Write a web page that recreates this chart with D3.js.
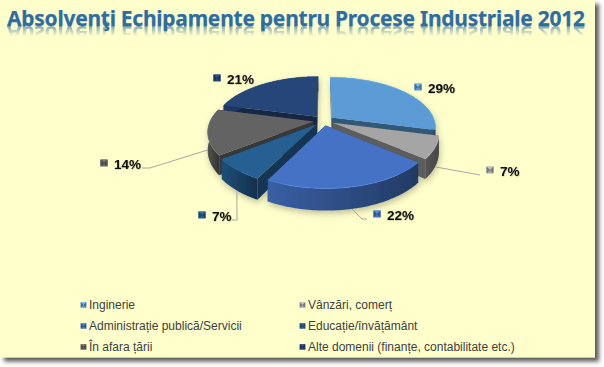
<!DOCTYPE html>
<html>
<head>
<meta charset="utf-8">
<script src="https://d3js.org/d3.v7.min.js"></script>
<style>
  html, body { margin: 0; background: #fff; }
  svg { display: block; }
  .legend text { font: 12px "Liberation Sans", Arial, sans-serif; fill: #404040; }
  .pct { font: bold 13.5px "Liberation Sans", Arial, sans-serif; fill: #111; }
  .title { font: bold 21px "Noto Sans", sans-serif; }
</style>
</head>
<body>
<div id="chart"></div>
<script>
const categories = ["Inginerie", "Vânzări, comerț", "Administrație publică/Servicii", "Educație/învățământ", "În afara țării", "Alte domenii (finanțe, contabilitate etc.)"];
// the printed labels are these rounded
const shares = [29, 7, 21.6, 7, 14.4, 21];
const colors = ["#5b9bd5", "#a5a5a5", "#4472c4", "#255e91", "#636363", "#264478"];
const titleText = "Absolvenţi Echipamente pentru Procese Industriale 2012";

// label placement, same order as categories. leader is the far end of the line
const labelSpots = [
  { x: 428, y: 88 },
  { x: 500, y: 171, leader: [[480, 175]] },
  { x: 387, y: 215, leader: [[362, 219], [367, 219]] },
  { x: 212, y: 216, leader: [[237, 220], [232, 220]] },
  { x: 114, y: 164, leader: [[150, 168], [142, 168]] },
  { x: 227, y: 79 }
];

const width = 604, height = 367;
const svg = d3.select("#chart").append("svg").attr("width", width).attr("height", height);
const defs = svg.append("defs");

// Frame
const frameShadow = defs.append("filter").attr("id", "frame-shadow").attr("x", "-5%").attr("y", "-5%").attr("width", "110%").attr("height", "110%");
frameShadow.append("feDropShadow").attr("dx", 4).attr("dy", 4).attr("stdDeviation", 2.2).attr("flood-color", "#333").attr("flood-opacity", 0.8);
svg.append("rect").attr("width", 595).attr("height", 357.5).attr("fill", "#ffffcc").attr("filter", "url(#frame-shadow)");

// Title. The reflection is a mirrored <use> of the same text node
const fade = defs.append("linearGradient").attr("id", "title-fade").attr("x1", 0).attr("x2", 0).attr("y1", 0).attr("y2", 1);
fade.append("stop").attr("offset", "0.42").attr("stop-color", "#2e6da4").attr("stop-opacity", 0);
fade.append("stop").attr("offset", "0.78").attr("stop-color", "#2e6da4").attr("stop-opacity", 0.6);
const soft = defs.append("filter").attr("id", "soft");
soft.append("feGaussianBlur").attr("stdDeviation", 0.5);
svg.append("g").attr("fill", "#2e6da4").attr("stroke", "#2e6da4").attr("stroke-width", 0.25)
  .append("text").attr("id", "title-text").attr("class", "title").attr("x", 7).attr("y", 25.5)
  .attr("textLength", 578).text(titleText);
svg.append("use").attr("href", "#title-text")
  .attr("transform", "translate(0,51.5) scale(1,-1)")
  .attr("fill", "url(#title-fade)").attr("stroke", "none").attr("filter", "url(#soft)");

// Pie geometry: a flat disc seen in perspective
const cx = 323.5, cy = 120.5, R = 103, flatten = 49, persp = 0.19, drop = 17.5, explode = 0.1;

function project(a, r, off, z) {
  const px = Math.sin(a) * r + Math.sin(off) * explode;
  const py = -Math.cos(a) * r - Math.cos(off) * explode;
  const s = 1 / (1 - persp * py);
  return [cx + px * R * s, cy + py * flatten * s + z * drop * s];
}

const slices = d3.pie().sort(null).value(d => d)(shares).map((d, i) => {
  const mid = (d.startAngle + d.endAngle) / 2;
  return { i, color: colors[i], start: d.startAngle, end: d.endAngle, mid, angles: d3.range(d.startAngle, d.endAngle, 0.02).concat(d.endAngle) };
});

const pathLine = d3.line();
const shadow = defs.append("filter").attr("id", "pie-shadow").attr("x", "-10%").attr("y", "-10%").attr("width", "120%").attr("height", "130%");
shadow.append("feDropShadow").attr("dx", 1).attr("dy", 3).attr("stdDeviation", 3).attr("flood-color", "#000").attr("flood-opacity", 0.25);

slices.forEach(s => {
  const g = defs.append("linearGradient").attr("id", `wall-${s.i}`);
  g.append("stop").attr("offset", 0).attr("stop-color", d3.color(s.color).darker(s.i === 1 ? 1.9 : 0.5));
  g.append("stop").attr("offset", 1).attr("stop-color", d3.color(s.color).darker(s.i === 1 ? 2.3 : 1.9));
});

const gPie = svg.append("g").attr("filter", "url(#pie-shadow)");

// Back slices first
const paintOrder = slices.slice().sort((a, b) => -Math.cos(a.mid) - -Math.cos(b.mid));

paintOrder.forEach(s => {
  const rim = z => s.angles.map(a => project(a, 1, s.mid, z));
  const tip = z => project(s.mid, 0, s.mid, z);
  const radial = a => [tip(0), project(a, 1, s.mid, 0), project(a, 1, s.mid, 1), tip(1)];
  const dark = d3.color(s.color).darker(1.6);

  gPie.append("path").attr("d", pathLine(radial(s.start)) + "Z").attr("fill", dark);
  gPie.append("path").attr("d", pathLine(radial(s.end)) + "Z").attr("fill", dark);
  gPie.append("path").attr("d", pathLine(rim(0).concat(rim(1).reverse())) + "Z").attr("fill", `url(#wall-${s.i})`);
  gPie.append("path").attr("d", pathLine([tip(0)].concat(rim(0))) + "Z").attr("fill", s.color);
  // bevel highlight on the rim
  gPie.append("path").attr("d", pathLine(rim(0))).attr("fill", "none")
    .attr("stroke", d3.color(s.color).brighter(0.7)).attr("stroke-width", 0.8).attr("opacity", 0.7);
});

// Bevelled square used for the label and legend keys
function drawKey(parent, x, y, size, color) {
  const h = size / 2, base = d3.color(color);
  const tri = (a, b) => pathLine([[x, y], a, b]) + "Z";
  parent.append("rect").attr("x", x - h).attr("y", y - h).attr("width", size).attr("height", size).attr("fill", base);
  parent.append("path").attr("d", tri([x - h, y - h], [x + h, y - h])).attr("fill", base.brighter(0.5));
  parent.append("path").attr("d", tri([x - h, y - h], [x - h, y + h])).attr("fill", base.darker(0.9));
  parent.append("path").attr("d", tri([x + h, y - h], [x + h, y + h])).attr("fill", base.darker(0.9));
}

// Leader lines
slices.forEach(s => {
  const spot = labelSpots[s.i];
  if (!spot.leader) return;
  svg.append("path").attr("fill", "none").attr("stroke", "#a6a6a6").attr("stroke-width", 1)
    .attr("d", pathLine([project(s.mid, 1, s.mid, 1)].concat(spot.leader)));
});

// Percent labels
const labelShadow = defs.append("filter").attr("id", "label-shadow");
labelShadow.append("feDropShadow").attr("dx", 0.5).attr("dy", 0.5).attr("stdDeviation", 0.5).attr("flood-color", "#000").attr("flood-opacity", 0.3);
slices.forEach(s => {
  const spot = labelSpots[s.i];
  drawKey(svg, spot.x - 10, spot.y - 1, 7, s.color);
  svg.append("text").attr("class", "pct").attr("x", spot.x).attr("y", spot.y + 5)
    .attr("filter", "url(#label-shadow)").text(`${Math.round(shares[s.i])}%`);
});

// Legend
const legendX = d3.scalePoint().domain([0, 1]).range([89, 308]);
const legendY = d3.scalePoint().domain([0, 1, 2]).range([309, 351]);
const gLegend = svg.append("g").attr("class", "legend");
categories.forEach((c, i) => {
  const lx = legendX(i % 2), ly = legendY(Math.floor(i / 2));
  drawKey(gLegend, lx - 5.5, ly - 4, 5.5, colors[i]);
  gLegend.append("text").attr("x", lx).attr("y", ly).text(c);
});
</script>
</body>
</html>
